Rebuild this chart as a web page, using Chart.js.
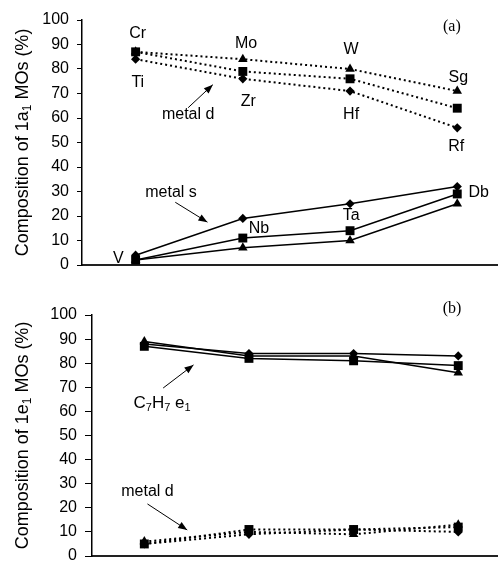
<!DOCTYPE html>
<html><head><meta charset="utf-8">
<script src="https://cdn.jsdelivr.net/npm/chart.js@4"></script>
<style>
html,body{margin:0;padding:0;background:#fff;}
.panel{position:relative;width:498px;overflow:hidden;}
canvas{display:block;}
</style>
</head><body>
<div class="panel" style="height:280px"><canvas id="ca" width="498" height="280"></canvas></div>
<div class="panel" style="height:281px"><canvas id="cb" width="498" height="281"></canvas></div>
<script>
// ---- data ----
const xIndex = [1, 2, 3, 4];               // positions of the four periods
const groupNames = ["Ti / V / Cr", "Zr / Nb / Mo", "Hf / Ta / W", "Rf / Db / Sg"];
const yTicks = [0, 10, 20, 30, 40, 50, 60, 70, 80, 90, 100];

// panel (a): composition of 1a1 MOs (%)
const aMetalD_G4 = [84, 76, 71, 56];   // Ti Zr Hf Rf (diamond)
const aMetalD_G5 = [87, 79, 76, 64];   // V Nb Ta Db (square)
const aMetalD_G6 = [87, 84, 80, 71];   // Cr Mo W Sg (triangle)
const aMetalS_G4 = [4, 19, 25, 32];
const aMetalS_G5 = [2, 11, 14, 29];
const aMetalS_G6 = [2, 7, 10, 25];

// panel (b): composition of 1e1 MOs (%)
const bC7H7_G4 = [88, 84, 84, 83];
const bC7H7_G5 = [87, 82, 81, 79];
const bC7H7_G6 = [89, 83, 83, 76];
const bMetalD_G4 = [5, 9, 11, 10];
const bMetalD_G5 = [5, 11, 11, 12];
const bMetalD_G6 = [6, 10, 9, 13];

const labelsA = ["Cr", "Ti", "Mo", "Zr", "W", "Hf", "Sg", "Rf", "V", "Nb", "Ta", "Db", "metal d", "metal s"];

// ---- helpers ----
const SANS = '"Liberation Sans", Arial, Helvetica, sans-serif';
const SERIF = '"Liberation Serif", "Times New Roman", serif';

function pts(arr) { return arr.map((v, i) => ({x: xIndex[i], y: v})); }

function ds(arr, style, dotted) {
  const r = style === 'rect' ? 6.3 : (style === 'triangle' ? 5.5 : 4.6);
  return {
    data: pts(arr), borderColor: '#000', backgroundColor: '#000',
    borderWidth: dotted ? 2 : 1.5, borderDash: dotted ? [2, 3] : [],
    pointStyle: style, pointRadius: r, pointHoverRadius: r,
    pointBackgroundColor: '#000', pointBorderColor: '#000', pointBorderWidth: 0,
    tension: 0, fill: false
  };
}

function drawRich(ctx, segs, x, y, size, subSize, shift) {
  const main = size + 'px ' + SANS, sub = subSize + 'px ' + SANS;
  let total = 0;
  segs.forEach(s => { ctx.font = s.sub ? sub : main; s.w = ctx.measureText(s.t).width; total += s.w; });
  let cx = x - total / 2;
  ctx.textAlign = 'left'; ctx.textBaseline = 'middle';
  segs.forEach(s => {
    ctx.font = s.sub ? sub : main;
    ctx.fillText(s.t, cx, s.sub ? y + shift : y);
    cx += s.w;
  });
}

function arrow(ctx, x1, y1, x2, y2) {
  ctx.beginPath(); ctx.moveTo(x1, y1); ctx.lineTo(x2, y2);
  ctx.lineWidth = 1; ctx.strokeStyle = '#000'; ctx.stroke();
  const a = Math.atan2(y2 - y1, x2 - x1), L = 9, W = 3.5;
  ctx.beginPath();
  ctx.moveTo(x2, y2);
  ctx.lineTo(x2 - L * Math.cos(a) + W * Math.sin(a), y2 - L * Math.sin(a) - W * Math.cos(a));
  ctx.lineTo(x2 - L * Math.cos(a) - W * Math.sin(a), y2 - L * Math.sin(a) + W * Math.cos(a));
  ctx.closePath(); ctx.fillStyle = '#000'; ctx.fill();
}

const annotPlugin = {
  id: 'annot',
  afterDraw(chart, args, o) {
    const ctx = chart.ctx, xs = chart.scales.x, ys = chart.scales.y, area = chart.chartArea;
    ctx.save();
    ctx.fillStyle = '#000';
    // y axis title with subscript
    ctx.save();
    ctx.translate(o.titleX, (area.top + area.bottom) / 2);
    ctx.rotate(-Math.PI / 2);
    drawRich(ctx, o.title, 0, 0, 18, 12, 5);
    ctx.restore();
    // text labels
    (o.labels || []).forEach(l => {
      const px = xs.getPixelForValue(l.x), py = ys.getPixelForValue(l.y);
      if (l.segs) { drawRich(ctx, l.segs, px, py, 17, 11, 5); }
      else {
        ctx.font = '16px ' + SANS; ctx.textAlign = 'center'; ctx.textBaseline = 'middle';
        ctx.fillText(l.t, px, py);
      }
    });
    (o.arrows || []).forEach(a => {
      arrow(ctx, xs.getPixelForValue(a[0]), ys.getPixelForValue(a[1]), xs.getPixelForValue(a[2]), ys.getPixelForValue(a[3]));
    });
    // panel tag
    ctx.font = '16px ' + SERIF; ctx.textAlign = 'center'; ctx.textBaseline = 'middle';
    ctx.fillText(o.tag.t, xs.getPixelForValue(o.tag.x), ys.getPixelForValue(o.tag.y));
    ctx.restore();
  }
};

function makeChart(id, datasets, cfg) {
  return new Chart(document.getElementById(id), {
    type: 'line',
    data: {datasets},
    plugins: [annotPlugin],
    options: {
      responsive: false, animation: false, events: [],
      layout: {autoPadding: false, padding: {top: cfg.padTop, bottom: cfg.padBottom, left: 0, right: 0}},
      plugins: {legend: {display: false}, tooltip: {enabled: false}, annot: cfg.annot},
      scales: {
        x: {
          type: 'linear', min: 0.5, max: 4.38,
          ticks: {display: false},
          grid: {display: false},
          border: {display: true, color: '#222', width: 2},
          afterFit: s => { s.height = 0; s.paddingLeft = 0; s.paddingRight = 0; s.paddingTop = 0; s.paddingBottom = 0; }
        },
        y: {
          type: 'linear', min: 0, max: 100,
          afterBuildTicks: s => { s.ticks = yTicks.map(v => ({value: v})); },
          ticks: {color: '#000', font: {family: SANS, size: 16}, padding: cfg.tickPad},
          grid: {drawOnChartArea: false, drawTicks: true, tickLength: cfg.tickLen, color: '#000', lineWidth: 1},
          border: {display: true, color: '#000', width: 1.5},
          afterFit: s => { s.width = cfg.yWidth; s.paddingTop = 0; s.paddingBottom = 0; s.paddingLeft = 0; s.paddingRight = 0; }
        }
      }
    }
  });
}

makeChart('ca', [
  ds(aMetalD_G5, 'rect', true), ds(aMetalD_G4, 'rectRot', true), ds(aMetalD_G6, 'triangle', true),
  ds(aMetalS_G4, 'rectRot', false), ds(aMetalS_G5, 'rect', false), ds(aMetalS_G6, 'triangle', false)
], {
  padTop: 20, padBottom: 15, yWidth: 82, tickPad: 8, tickLen: 5,
  annot: {
    titleX: 23,
    title: [{t: 'Composition of 1a'}, {t: '1', sub: true}, {t: ' MOs (%)'}],
    labels: [
      {t: labelsA[0], x: 1.02, y: 94.5}, {t: labelsA[1], x: 1.02, y: 74.5},
      {t: labelsA[2], x: 2.03, y: 90.5}, {t: labelsA[3], x: 2.05, y: 66.5},
      {t: labelsA[4], x: 3.01, y: 88}, {t: labelsA[5], x: 3.01, y: 61.5},
      {t: labelsA[6], x: 4.01, y: 76.5}, {t: labelsA[7], x: 3.99, y: 48.5},
      {t: labelsA[8], x: 0.84, y: 2.6}, {t: labelsA[9], x: 2.15, y: 15},
      {t: labelsA[10], x: 3.01, y: 20}, {t: labelsA[11], x: 4.2, y: 29.5},
      {t: labelsA[12], x: 1.49, y: 61.5}, {t: labelsA[13], x: 1.33, y: 29.5}
    ],
    arrows: [[1.49, 64.2, 1.72, 73.6], [1.37, 25.6, 1.67, 17.5]],
    tag: {t: '(a)', x: 3.95, y: 97.2}
  }
});

makeChart('cb', [
  ds(bC7H7_G5, 'rect', false), ds(bC7H7_G4, 'rectRot', false), ds(bC7H7_G6, 'triangle', false),
  ds(bMetalD_G5, 'rect', true), ds(bMetalD_G4, 'rectRot', true), ds(bMetalD_G6, 'triangle', true)
], {
  padTop: 35, padBottom: 5, yWidth: 92, tickPad: 8, tickLen: 7,
  annot: {
    titleX: 23,
    title: [{t: 'Composition of 1e'}, {t: '1', sub: true}, {t: ' MOs (%)'}],
    labels: [
      {segs: [{t: 'C'}, {t: '7', sub: true}, {t: 'H'}, {t: '7', sub: true}, {t: ' e'}, {t: '1', sub: true}], x: 1.17, y: 63.5},
      {t: 'metal d', x: 1.03, y: 26.6}
    ],
    arrows: [[1.18, 69.7, 1.47, 79.3], [1.03, 21.6, 1.41, 10.8]],
    tag: {t: '(b)', x: 3.94, y: 102.5}
  }
});
</script>
</body></html>
